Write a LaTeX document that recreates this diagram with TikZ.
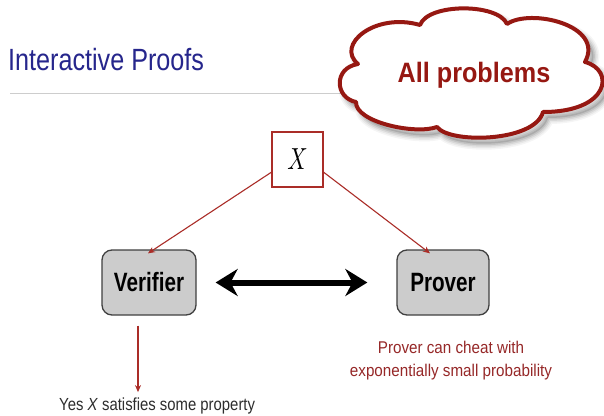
\documentclass[tikz,border=0pt]{standalone}
\usepackage{fontspec}
\setmainfont{Liberation Sans}
\usepackage{graphicx}
\usetikzlibrary{arrows.meta,calc}

\definecolor{titleblue}{RGB}{38,38,140}
\definecolor{cloudred}{RGB}{150,24,18}
\definecolor{boxred}{RGB}{170,45,40}
\definecolor{textred}{RGB}{150,40,40}
\definecolor{agentgray}{RGB}{204,204,204}
\definecolor{rulegray}{RGB}{205,205,205}
\definecolor{captiongray}{RGB}{45,45,45}

% horizontally condensed text
\newcommand\narrow[2]{\scalebox{#1}[1]{#2}}

% outline of the cloud, in y-down coordinates
\newcommand\cloudpath{
  (358,64)
  .. controls (335,45) and (375,12) .. (420,25)
  .. controls (428,3) and (498,3) .. (507,24)
  .. controls (530,8) and (605,25) .. (585,62)
  .. controls (615,70) and (610,112) .. (543,112)
  .. controls (535,142) and (450,144) .. (437,127)
  .. controls (415,135) and (355,122) .. (356,102)
  .. controls (335,98) and (333,68) .. (358,64) -- cycle}

\begin{document}
\begin{tikzpicture}[x=1pt,y=-1pt,
  agent/.style={draw=black!75, line width=1.3pt, fill=agentgray,
    rounded corners=10pt, minimum height=65pt, inner sep=0pt,
    font=\fontsize{26.5}{30}\selectfont\bfseries},
  inbox/.style={draw=boxred, line width=1.5pt, fill=white,
    minimum width=51pt, minimum height=55pt, inner sep=0pt},
  feed/.style={draw=boxred, line width=1.1pt, -{Stealth[length=7pt,width=6pt]}},
  talk/.style={line width=6pt,
    {Stealth[length=22pt,width=27pt]}-{Stealth[length=22pt,width=27pt]}},
  note/.style={inner sep=0pt, anchor=base, text=textred,
    font=\fontsize{17}{20}\selectfont},
  heading/.style={inner sep=0pt, anchor=base west, text=titleblue,
    font=\fontsize{30.7}{34}\selectfont},
]
\useasboundingbox (0,0) rectangle (604,415);
\fill[white] (0,0) rectangle (604,415);

% heading and the rule under it
\node[heading] (title) at (8,70) {\narrow{0.82}{Interactive Proofs}};
\draw[rulegray, line width=1pt] (10,93) -- (350,93);

% cloud: blurred shadow, then the outline
\foreach \w/\o in {12/0.04,9/0.05,6/0.07,3/0.09}
  \draw[black, opacity=\o, line width=\w pt, line join=round,
    shift={(5,6)}] \cloudpath;
\fill[black, opacity=0.12, shift={(5,6)}] \cloudpath;
\draw[cloudred, fill=white, line width=4pt, line join=round] \cloudpath;
\node[inner sep=0pt, anchor=base, text=cloudred,
  font=\fontsize{28}{32}\selectfont\bfseries] (all) at (474,82)
  {\narrow{0.9}{All problems}};

% input, verifier and prover
\node[inbox] (X) at (297.5,159.5) {\scalebox{2.25}[3.05]{$X$}};
\node[agent, minimum width=94pt] (V) at (149,282.5) {\narrow{0.78}{Verifier}};
\node[agent, minimum width=92pt] (P) at (443,282.5) {\narrow{0.78}{Prover}};

\draw[feed] (X.-154) -- ($(V.north)+(-1,4)$);
\draw[feed] (X.-26) -- ($(P.north)+(-13,4)$);
\draw[talk, shorten <=19pt, shorten >=29pt] (V.east) -- (P.west);

% verifier's answer
\node[inner sep=0pt, anchor=base west, text=captiongray,
  font=\fontsize{17.5}{20}\selectfont] (yes) at (59,410)
  {\narrow{0.85}{Yes \textit{X} satisfies some property}};
\coordinate (vout) at ($(V.south)+(-11,10)$);
\draw[feed, shorten >=5pt] (vout) -- (vout |- yes.north);

% note under the prover
\node[note] (cheat1) at (451,353) {\narrow{0.895}{Prover can cheat with}};
\node[note] (cheat2) at (451,376) {\narrow{0.895}{exponentially small probability}};
\end{tikzpicture}
\end{document}
